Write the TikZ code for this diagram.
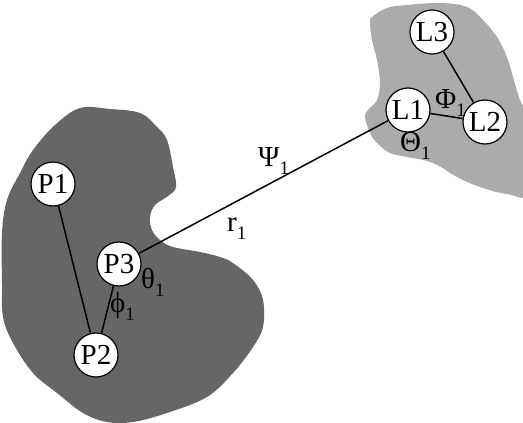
\documentclass[tikz,border=0pt]{standalone}
\usepackage{fontspec}
\setmainfont{Liberation Serif}
\definecolor{darkblob}{HTML}{666666}
\definecolor{lightblob}{HTML}{ABABAB}
\newcommand\lbsub[1]{\raisebox{-0.3em}{\fontsize{19}{19}\selectfont #1}}
\tikzset{
  atom/.style={circle, draw=black, line width=1.2pt, fill=white, minimum size=44pt, inner sep=0pt, font=\fontsize{29}{29}\selectfont},
  bond/.style={line width=1.5pt, black},
  lab/.style={anchor=base west, inner sep=0pt, font=\fontsize{29}{29}\selectfont}
}
\begin{document}
\begin{tikzpicture}[x=1pt,y=-1pt]
\useasboundingbox (0,0) rectangle (523,423);
\clip (0,0) rectangle (523,423);
% dark blob
\fill[darkblob] plot[smooth cycle, tension=0.6] coordinates {
(80,108) (110,109) (140,113) (157,127) (167,140) (173,167) (176,187) (168,196)
(155,205) (150,217) (152,230) (160,240) (173,247) (200,252) (220,257) (233,263)
(253,280) (263,300) (263,327) (253,347) (233,373) (207,397) (167,413) (133,422)
(107,422) (83,413) (57,393) (33,373) (13,343) (3,317) (2,283) (2,233) (7,200)
(20,173) (33,150) (55,125)};
% light blob
\fill[lightblob] plot[smooth cycle, tension=0.6] coordinates {
(372,17) (387,8) (407,5) (440,3) (467,7) (483,20) (497,37) (507,57) (513,77)
(520,100) (530,125) (530,192) (507,194) (480,187) (457,177) (433,163) (407,157)
(390,153) (377,143) (370,133) (365,117) (368,110) (377,100) (380,83) (377,60)
(372,40) (370,23)};
% labels
\node[lab] (psi) at (258,166) {Ψ\lbsub{1}};
\node[lab] (r) at (227,231) {r\lbsub{1}};
\node[lab] (theta) at (141,288) {θ\lbsub{1}};
\node[lab] (phi) at (110,312) {ϕ\lbsub{1}};
\node[lab] (Phi) at (435,108) {Φ\lbsub{1}};
\node[lab] (Theta) at (400,151) {Θ\lbsub{1}};
% atoms
\node[atom] (P1) at (53,184) {P1};
\node[atom] (P2) at (96,355) {P2};
\node[atom] (P3) at (119,264) {P3};
\node[atom] (L1) at (408,110) {L1};
\node[atom] (L2) at (485,122) {L2};
\node[atom] (L3) at (432,32) {L3};
% bonds
\draw[bond] (P1) -- (P2);
\draw[bond] (P3) -- (P2);
\draw[bond] (P3) -- (L1);
\draw[bond] (L1) -- (L2);
\draw[bond] (L3) -- (L2);
\end{tikzpicture}
\end{document}
